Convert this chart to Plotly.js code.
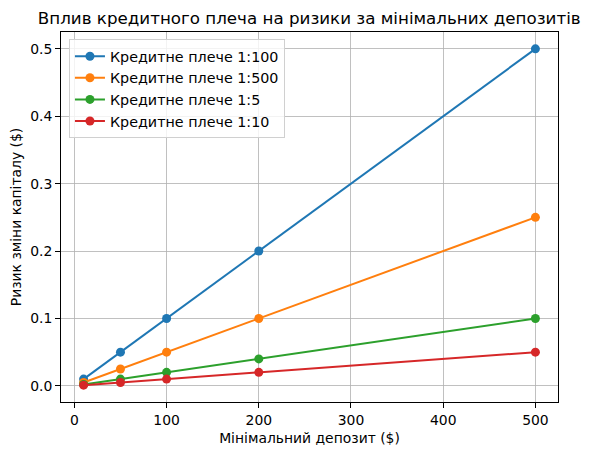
<!DOCTYPE html>
<html><head><meta charset="utf-8">
<script src="https://cdn.plot.ly/plotly-3.0.1.min.js"></script>
<style>body{margin:0;padding:0;background:#fff}#chart{width:589px;height:455px}</style>
</head><body><div id="chart"></div>
<script>
const deposits = [10, 50, 100, 200, 500];
const seriesNames = ["Кредитне плече 1:100", "Кредитне плече 1:500", "Кредитне плече 1:5", "Кредитне плече 1:10"];
const risk100 = [0.01, 0.05, 0.1, 0.2, 0.5];
const risk500 = [0.005, 0.025, 0.05, 0.1, 0.25];
const risk5 = [0.002, 0.01, 0.02, 0.04, 0.1];
const risk10 = [0.001, 0.005, 0.01, 0.02, 0.05];
const colors = ["#1f77b4", "#ff7f0e", "#2ca02c", "#d62728"];
const allSeries = [risk100, risk500, risk5, risk10];
const font = "DejaVu Sans, sans-serif";
const traces = allSeries.map((ys, i) => ({
  x: deposits, y: ys, name: seriesNames[i], type: "scatter", mode: "lines+markers",
  line: {color: colors[i], width: 2}, marker: {color: colors[i], size: 9}
}));
const layout = {
  width: 589, height: 455,
  margin: {l: 61, r: 31, t: 32, b: 53},
  paper_bgcolor: "#fff", plot_bgcolor: "#fff",
  font: {family: font, size: 13.9, color: "#000"},
  title: {text: "Вплив кредитного плеча на ризики за мінімальних депозитів", font: {size: 16.7, family: font}, x: 0.525, xanchor: "center", y: 0.96, yanchor: "middle"},
  xaxis: {range: [-14.5, 524.5], tickvals: [0, 100, 200, 300, 400, 500], showgrid: true, gridcolor: "#b0b0b0", gridwidth: 0.8,
    zeroline: false, showline: true, linecolor: "#000", linewidth: 1, mirror: true, ticks: "outside", ticklen: 5, tickcolor: "#000",
    title: {text: "Мінімальний депозит ($)", font: {size: 13.9, family: font}, standoff: 6}},
  yaxis: {range: [-0.02395, 0.52495], tickvals: [0, 0.1, 0.2, 0.3, 0.4, 0.5], tickformat: ".1f", showgrid: true, gridcolor: "#b0b0b0", gridwidth: 0.8,
    zeroline: false, showline: true, linecolor: "#000", linewidth: 1, mirror: true, ticks: "outside", ticklen: 5, tickcolor: "#000",
    title: {text: "Ризик зміни капіталу ($)", font: {size: 13.9, family: font}, standoff: 5}},
  legend: {x: 0.016, y: 0.98, xanchor: "left", yanchor: "top", bgcolor: "rgba(255,255,255,0.8)", bordercolor: "#d0d0d0", borderwidth: 1,
    font: {size: 14.3, family: font}, tracegroupgap: 0, itemwidth: 30}
};
Plotly.newPlot("chart", traces, layout, {displayModeBar: false, staticPlot: true});
</script></body></html>
